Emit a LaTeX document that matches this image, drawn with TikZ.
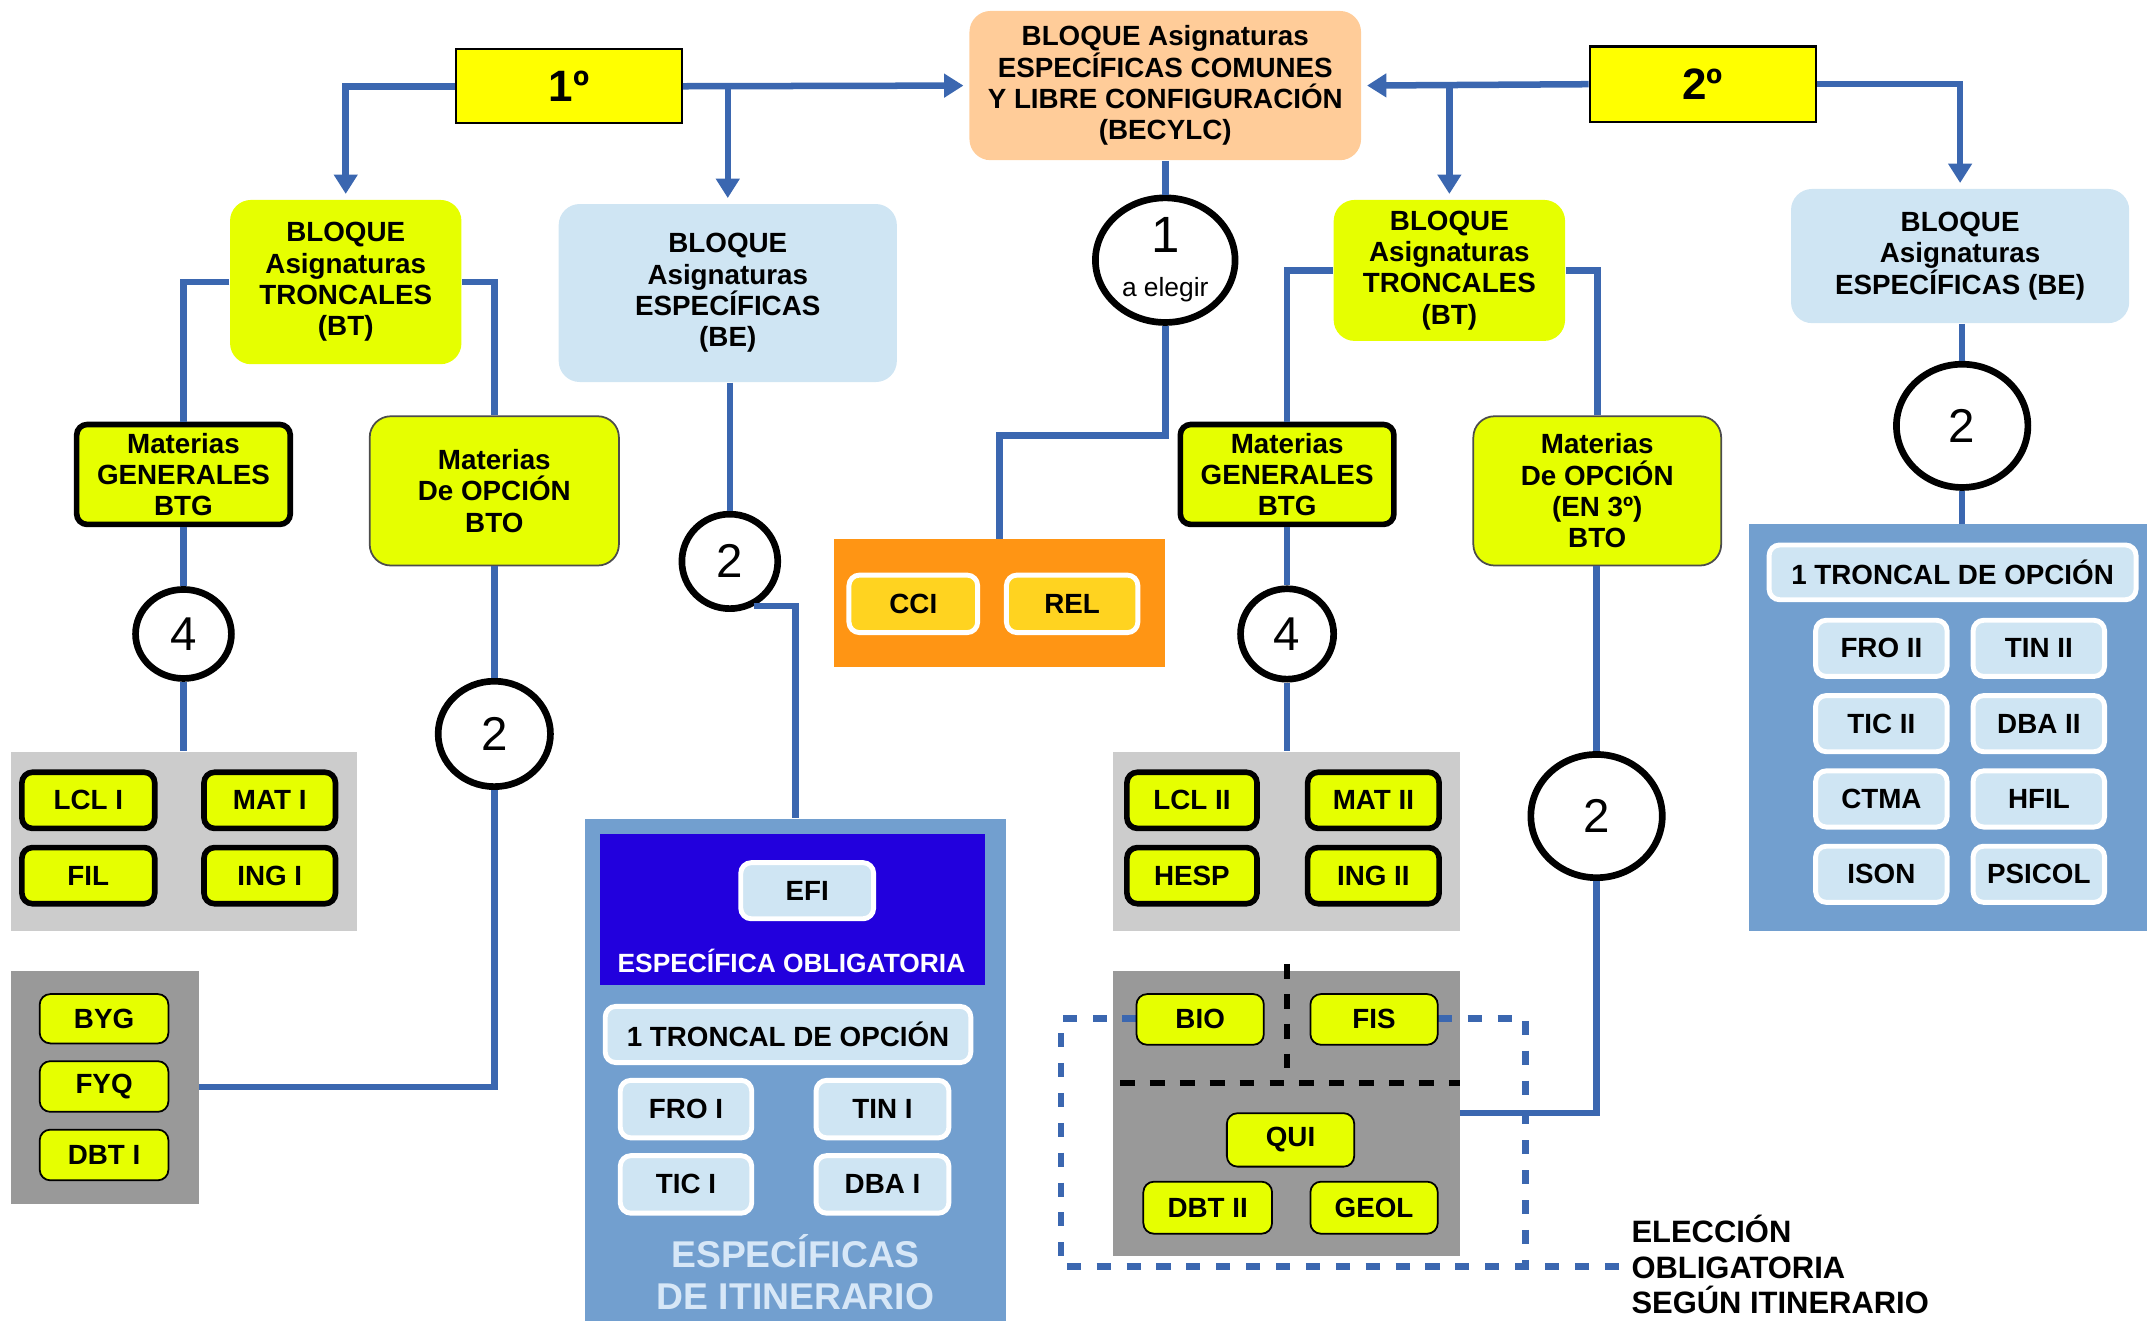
\documentclass[tikz,border=0pt]{standalone}
\usepackage{fontspec}
\setmainfont{Liberation Sans}
\usetikzlibrary{shapes.geometric,arrows.meta,calc}
\definecolor{lineblue}{RGB}{59,103,176}
\definecolor{lime}{RGB}{230,255,0}
\definecolor{pureyellow}{RGB}{255,255,0}
\definecolor{peach}{RGB}{255,204,153}
\definecolor{paleblue}{RGB}{207,229,243}
\definecolor{lightgray}{RGB}{204,204,204}
\definecolor{darkgray}{RGB}{153,153,153}
\definecolor{orangebg}{RGB}{255,149,20}
\definecolor{goldbtn}{RGB}{255,211,32}
\definecolor{panelblue}{RGB}{114,159,207}
\definecolor{deepblue}{RGB}{34,0,221}
\definecolor{itintext}{RGB}{215,231,247}
\newcommand{\pxu}{0.013693cm}
\tikzset{
  sz/.style n args={2}{minimum width=#1*\pxu, minimum height=#2*\pxu},
  conn/.style={draw=lineblue, line width=1.85pt},
  arr/.style={conn, -{Triangle[length=5.5pt,width=6.5pt]}, shorten >=1.5pt},
  yearbox/.style={rectangle, fill=pureyellow, draw=black, line width=0.6pt, font=\bfseries\fontsize{12.5}{14}\selectfont},
  bloque/.style={rectangle, rounded corners=6pt},
  btbox/.style={bloque, fill=lime},
  bebox/.style={bloque, fill=paleblue},
  gen/.style={rectangle, rounded corners=3pt, fill=lime, draw=black, line width=1.6pt},
  opc/.style={rectangle, rounded corners=6pt, fill=lime, draw=black!70, line width=0.5pt},
  thinbtn/.style={rectangle, rounded corners=3pt, fill=lime, draw=black, line width=0.5pt},
  pbtn/.style={rectangle, rounded corners=3pt, fill=paleblue, draw=white, line width=1.4pt},
  gbtn/.style={rectangle, rounded corners=3pt, fill=goldbtn, draw=white, line width=1.4pt},
  circ/.style={ellipse, draw=black, line width=1.9pt, fill=white, font=\fontsize{13.5}{15}\selectfont},
  area/.style={rectangle},
  bkdash/.style={draw=black, line width=1.7pt, dash pattern=on 4.2pt off 4.3pt},
  bldash/.style={draw=lineblue, line width=1.85pt, dash pattern=on 4pt off 4.5pt}
}
\begin{document}
\begin{tikzpicture}[x=0.013693cm,y=-0.013693cm,
  every node/.style={font=\bfseries\fontsize{7.9}{8.9}\selectfont, align=center, inner sep=0pt}]
\useasboundingbox (0,0) rectangle (1568,965);

% ---------- top ----------
\node[yearbox, sz={165}{54}] (y1) at (415.5,63) {1º};
\node[bloque, fill=peach, sz={286}{109}] (becylc) at (851,62.5) {BLOQUE Asignaturas\\ESPECÍFICAS COMUNES\\Y LIBRE CONFIGURACIÓN\\(BECYLC)};
\node[yearbox, sz={165}{55}] (y2) at (1243.5,61.5) {2º};

% ---------- blocks ----------
\node[btbox, sz={169}{120}] (bt1) at (252.5,206) {BLOQUE\\Asignaturas\\TRONCALES\\(BT)};
\node[bebox, sz={247}{130}] (be1) at (531.5,214) {BLOQUE\\Asignaturas\\ESPECÍFICAS\\(BE)};
\node[btbox, sz={169}{103}] (bt2) at (1058.5,197.5) {BLOQUE\\Asignaturas\\TRONCALES\\(BT)};
\node[bebox, sz={247}{98}] (be2) at (1431.5,187) {BLOQUE\\Asignaturas\\ESPECÍFICAS (BE)};

\node[gen, sz={156}{73}] (mg1) at (134,346.5) {Materias\\GENERALES\\BTG};
\node[opc, sz={182}{109}] (mo1) at (361,358.5) {Materias\\De OPCIÓN\\BTO};
\node[gen, sz={156}{73}] (mg2) at (940,346.5) {Materias\\GENERALES\\BTG};
\node[opc, sz={181}{109}] (mo2) at (1166.5,358.5) {Materias\\De OPCIÓN\\(EN 3º)\\BTO};

% ---------- circles ----------
\node[circ, sz={102}{91}] (c1) at (851,190) {{\fontsize{14.5}{15}\selectfont 1}\\[-2.5pt]{\mdseries\fontsize{7.5}{9}\selectfont a elegir}};
\node[circ, sz={70}{65}] (c4a) at (134,463) {4};
\node[circ, sz={82}{77}] (c2a) at (361,536) {2};
\node[circ, sz={70}{69}] (c2b) at (533,410) {2};
\node[circ, sz={68}{66}] (c4b) at (940,463) {4};
\node[circ, sz={96}{90}] (c2c) at (1166,596) {2};
\node[circ, sz={96}{90}] (c2d) at (1433,311) {2};

% ---------- orange box ----------
\node[area, fill=orangebg, sz={242}{93}] (orng) at (730,440.5) {};
\node[gbtn, sz={94}{42}] (cci) at (667,441) {CCI};
\node[gbtn, sz={96}{42}] (rel) at (783,441) {REL};

% ---------- gray 1 ----------
\node[area, fill=lightgray, sz={253}{131}] (g1) at (134.5,614.5) {};
\node[gen, sz={97}{41}] (lcl1) at (64.5,584.5) {LCL I};
\node[gen, sz={96}{41}] (mat1) at (197,584.5) {MAT I};
\node[gen, sz={97}{41}] (fil) at (64.5,639.5) {FIL};
\node[gen, sz={96}{41}] (ing1) at (197,639.5) {ING I};

% ---------- gray 2 ----------
\node[area, fill=darkgray, sz={137}{170}] (g2) at (76.5,794) {};
\node[thinbtn, sz={94}{36}] (byg) at (76,744) {BYG};
\node[thinbtn, sz={94}{37}] (fyq) at (76,793.5) {FYQ};
\node[thinbtn, sz={94}{37}] (dbt1) at (76,843.5) {DBT I};

% ---------- blue panel left ----------
\node[area, fill=panelblue, sz={308}{367}] (bp) at (581,781.5) {};
\node[area, fill=deepblue, sz={281}{110}] (dbb) at (578.5,664) {};
\node[pbtn, sz={97}{41}] (efi) at (589.5,650.5) {EFI};
\node[text=white, font=\bfseries\fontsize{7.5}{9}\selectfont] (eob) at (578,702) {ESPECÍFICA OBLIGATORIA};
\node[pbtn, sz={267}{41}] (tro1) at (575.5,755.5) {1 TRONCAL DE OPCIÓN};
\node[pbtn, sz={96}{42}] (fro1) at (501,810) {FRO I};
\node[pbtn, sz={97}{42}] (tin1) at (644.5,810) {TIN I};
\node[pbtn, sz={96}{42}] (tic1) at (501,865) {TIC I};
\node[pbtn, sz={97}{42}] (dba1) at (644.5,865) {DBA I};
\node[text=itintext, font=\bfseries\fontsize{10.6}{11.8}\selectfont] (itin) at (581,929) {ESPECÍFICAS\\DE ITINERARIO};

% ---------- gray 3 ----------
\node[area, fill=lightgray, sz={253}{131}] (g3) at (939.5,614.5) {};
\node[gen, sz={95}{41}] (lcl2) at (870.5,584.5) {LCL II};
\node[gen, sz={96}{41}] (mat2) at (1003,584.5) {MAT II};
\node[gen, sz={95}{41}] (hesp) at (870.5,639.5) {HESP};
\node[gen, sz={96}{41}] (ing2) at (1003,639.5) {ING II};

% ---------- gray 4 ----------
\node[area, fill=darkgray, sz={253}{208}] (g4) at (939.5,813) {};
\draw[bkdash] (940,704) -- (940,785);
\draw[bkdash] (818,791) -- (g4.east |- 0,791);
\draw[bldash] (830,744) -- (775,744) -- (775,925) -- (1185,925);
\draw[bldash] (1050,744) -- (1114,744) -- (1114,925);
\node[thinbtn, sz={93}{37}] (bio) at (876.5,744.5) {BIO};
\node[thinbtn, sz={93}{37}] (fis) at (1003.5,744.5) {FIS};
\node[thinbtn, sz={93}{39}] (qui) at (942.5,832.5) {QUI};
\node[thinbtn, sz={94}{38}] (dbt2) at (882,882) {DBT II};
\node[thinbtn, sz={93}{38}] (geol) at (1003.5,882) {GEOL};
\node[anchor=north west, align=left, font=\bfseries\fontsize{8.8}{10.1}\selectfont] (elec) at (1191,887) {ELECCIÓN\\OBLIGATORIA\\SEGÚN ITINERARIO};

% ---------- right panel ----------
\node[area, fill=panelblue, sz={291}{297}] (rp) at (1422.5,531.5) {};
\node[pbtn, sz={268}{40}] (tro2) at (1426,418) {1 TRONCAL DE OPCIÓN};
\node[pbtn, sz={96}{41}] (fro2) at (1374,473.5) {FRO II};
\node[pbtn, sz={96}{41}] (tin2) at (1489,473.5) {TIN II};
\node[pbtn, sz={96}{41}] (tic2) at (1374,528.5) {TIC II};
\node[pbtn, sz={96}{41}] (dba2) at (1489,528.5) {DBA II};
\node[pbtn, sz={96}{41}] (ctma) at (1374,583.5) {CTMA};
\node[pbtn, sz={96}{41}] (hfil) at (1489,583.5) {HFIL};
\node[pbtn, sz={96}{41}] (ison) at (1374,638.5) {ISON};
\node[pbtn, sz={96}{41}] (psicol) at (1489,638.5) {PSICOL};

% ---------- connectors ----------
\draw[arr] (y1.east) -- (becylc.west);
\draw[arr] (y1.west) -| (bt1.north);
\draw[arr] (y1.east -| be1.north) -- (be1.north);
\draw[arr] (y2.west) -- (becylc.east);
\draw[arr] (y2.west -| bt2.north) -- (bt2.north);
\draw[arr] (y2.east) -| (be2.north);

\draw[conn] (bt1.west) -| (mg1.north);
\draw[conn] (bt1.east) -| (mo1.north);
\draw[conn] (mg1.south) -- (c4a.north);
\draw[conn] (c4a.south) -- (g1.north -| c4a.south);
\draw[conn] (mo1.south) -- (c2a.north);
\draw[conn] (c2a.south) |- (g2.east);
\draw[conn] (be1.south -| c2b.north) -- (c2b.north);
\draw[conn] (c2b.-62) -| (bp.north);

\draw[conn] (becylc.south) -- (c1.north);
\draw[conn] (c1.south) -- ++(0,80) -| (orng.north);

\draw[conn] (bt2.west) -| (mg2.north);
\draw[conn] (bt2.east) -| (mo2.north);
\draw[conn] (mg2.south) -- (c4b.north);
\draw[conn] (c4b.south) -- (g3.north -| c4b.south);
\draw[conn] (mo2.south -| c2c.north) -- (c2c.north);
\draw[conn] (c2c.south) |- (g4.east);

\draw[conn] (be2.south -| c2d.north) -- (c2d.north);
\draw[conn] (c2d.south) -- (rp.north -| c2d.south);
\end{tikzpicture}
\end{document}
